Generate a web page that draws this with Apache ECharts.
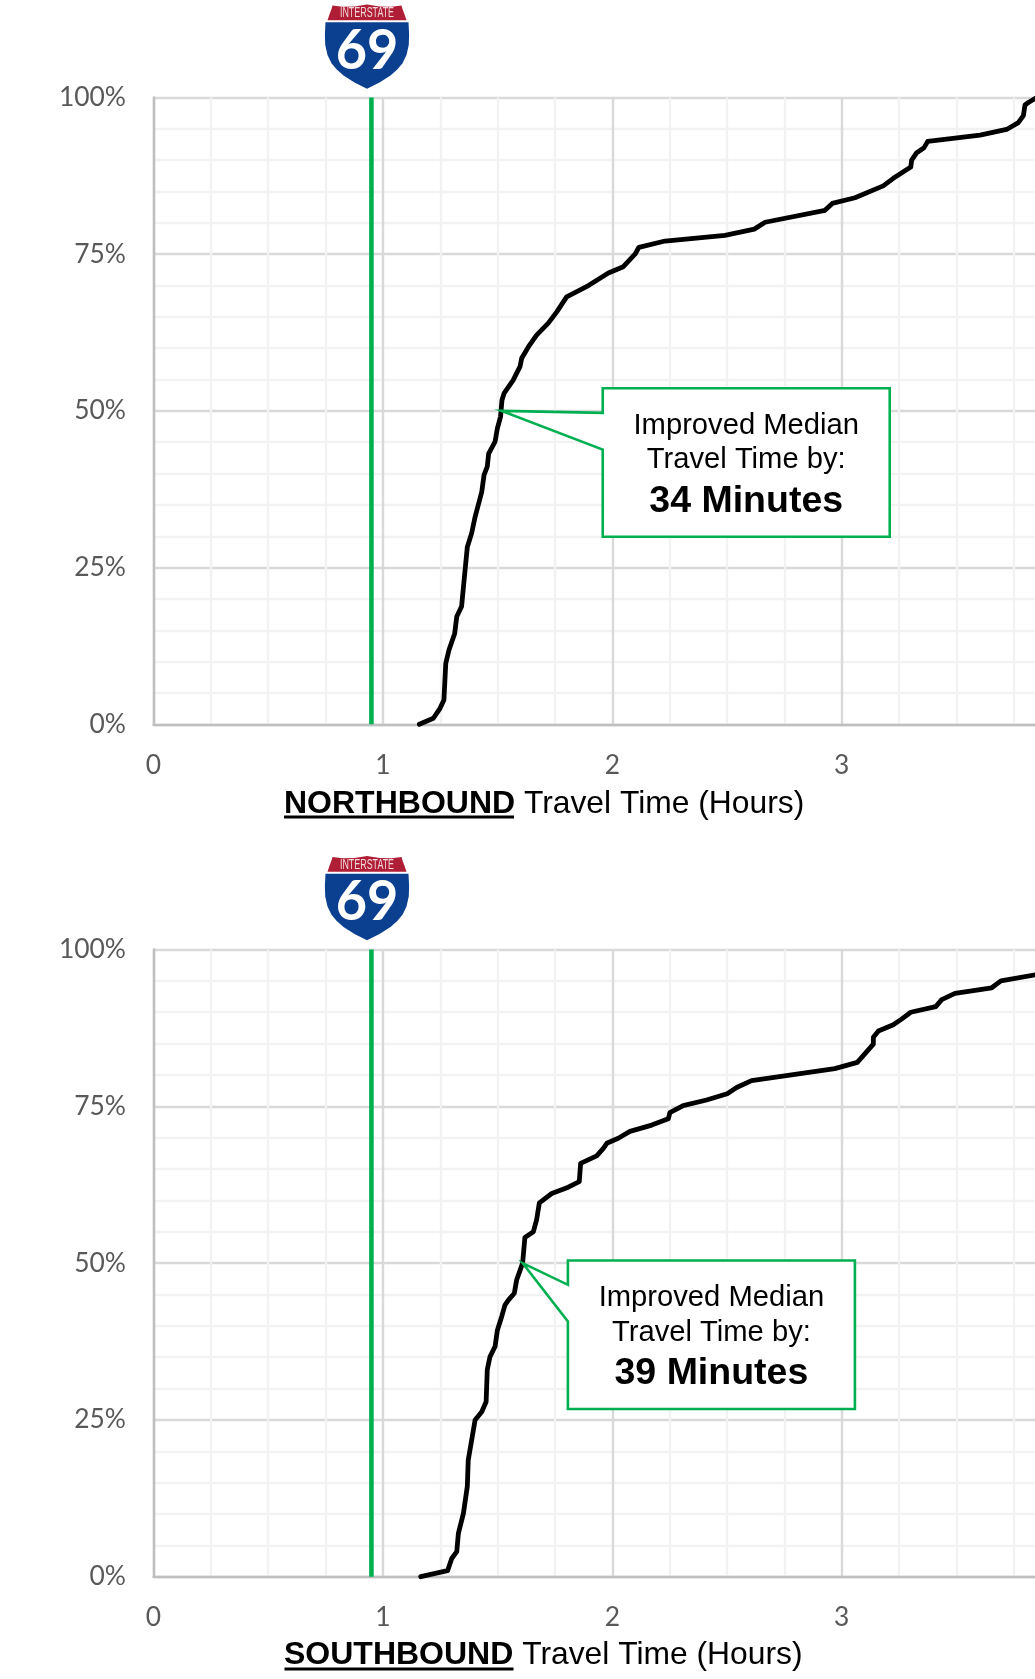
<!DOCTYPE html>
<html>
<head>
<meta charset="utf-8">
<style>html,body{margin:0;padding:0;background:#fff;overflow:hidden}#c{width:1035px;height:1679px}</style>
<script src="https://cdn.jsdelivr.net/npm/echarts@6/dist/echarts.min.js"></script>
</head>
<body>
<div id="c"></div>
<script>
const xTicks = [0, 1, 2, 3];
const yTicks = ['0%', '25%', '50%', '75%', '100%'];
const targetHours = 0.95;

const northHours = [1.159,1.22,1.249,1.266,1.274,1.288,1.313,1.322,1.343,1.354,1.368,1.387,1.402,1.431,1.441,1.455,1.461,1.489,1.499,1.513,1.519,1.528,1.568,1.598,1.605,1.634,1.67,1.721,1.758,1.801,1.896,1.983,2.048,2.099,2.116,2.23,2.491,2.619,2.666,2.927,2.959,3.058,3.181,3.225,3.301,3.305,3.327,3.359,3.375,3.603,3.719,3.77,3.792,3.799,3.814,3.85];
const northPct = [0,0.96,2.55,3.88,9.7,11.85,14.5,17.2,18.8,23,28.3,30.5,33.1,37.1,39.8,41.1,43.2,45.1,47.2,49.1,51.7,52.8,54.9,57.1,58.4,60.2,62.1,64,65.8,68.2,70,72,73,75,76.1,77.1,78,79,80.1,82,83.1,84,85.9,87.1,88.9,90,91.2,92,93,94,94.9,96,97.1,98.8,99.2,100];

const southHours = [1.165,1.282,1.30,1.322,1.329,1.351,1.368,1.372,1.402,1.431,1.45,1.455,1.467,1.489,1.499,1.518,1.532,1.547,1.573,1.583,1.609,1.619,1.656,1.67,1.682,1.736,1.808,1.856,1.862,1.932,1.961,1.976,2.026,2.077,2.172,2.244,2.251,2.309,2.411,2.501,2.542,2.607,2.97,3.068,3.116,3.138,3.138,3.16,3.225,3.261,3.301,3.41,3.436,3.494,3.654,3.694,3.85];
const southPct = [0,0.96,2.9,4,6.9,10.1,14.4,18.6,25,26.3,27.9,33,35.1,36.7,39.3,41.5,43.3,44.1,45.2,47.3,50,54.1,55,56.9,59.6,61.1,62.1,63,65.9,67.1,68.3,69.1,69.9,71,72,73,74,75.1,76,77,78,79.1,81,82,84,84.9,86,87,88,88.9,90,90.9,92,93,93.9,95,96];

const northMedian = [1.518, 50];
const southMedian = [1.609, 50];
const calloutLines = ['Improved Median', 'Travel Time by:'];
const northImproved = '34 Minutes';
const southImproved = '39 Minutes';
const northBound = 'NORTHBOUND';
const southBound = 'SOUTHBOUND';
const axisRest = ' Travel Time (Hours)';

const GREEN = '#00B050';
const SANS = '"Liberation Sans", Arial, sans-serif';
const LATO = 'Lato, sans-serif';
const zip = (a, b) => a.map((v, i) => [v, b[i]]);

function callout(bold, dx, dTop, j1, j2) {
  return {
    type: 'custom', coordinateSystem: 'cartesian2d', silent: true, z: 6, clip: false,
    renderItem(params, api) {
      const t = api.coord([api.value(0), api.value(1)]);
      const L = t[0] + dx, R = L + 287, T = t[1] + dTop, B = T + 148.5, cx = (L + R) / 2;
      const txt = (s, y, font) => ({
        type: 'text', z2: 2,
        style: { text: s, x: cx, y: T + y, align: 'center', verticalAlign: 'middle', font, fill: '#000' }
      });
      return {
        type: 'group',
        children: [
          { type: 'polygon',
            shape: { points: [t, [L, t[1] + j1], [L, T], [R, T], [R, B], [L, B], [L, t[1] + j2]] },
            style: { fill: '#fff', stroke: GREEN, lineWidth: 2.6 } },
          txt(calloutLines[0], 37.5, '29.2px ' + SANS),
          txt(calloutLines[1], 72, '29.2px ' + SANS),
          txt(bold, 113, 'bold 37.5px ' + SANS)
        ]
      };
    }
  };
}

function axisPair(gi) {
  return {
    x: {
      type: 'value', gridIndex: gi, min: 0, max: 4, interval: 1,
      axisLine: { show: true, onZero: false, lineStyle: { color: '#BFBFBF', width: 2.4 } },
      axisTick: { show: false },
      axisLabel: { color: '#595959', fontFamily: LATO, fontSize: 26.4, margin: 28, showMaxLabel: false,
        formatter: v => String(xTicks[v] !== undefined ? xTicks[v] : '') },
      splitLine: { show: true, lineStyle: { color: '#D9D9D9', width: 2.4 } },
      minorTick: { show: false, splitNumber: 4 },
      minorSplitLine: { show: true, lineStyle: { color: '#F2F2F2', width: 2.4 } }
    },
    y: {
      type: 'value', gridIndex: gi, min: 0, max: 100, interval: 25,
      axisLine: { show: true, onZero: false, lineStyle: { color: '#BFBFBF', width: 2.4 } },
      axisTick: { show: false },
      axisLabel: { color: '#595959', fontFamily: LATO, fontSize: 26.4, margin: 27.5, padding: [2, 0, 0, 0],
        formatter: v => yTicks[v / 25] },
      splitLine: { show: true, lineStyle: { color: '#D9D9D9', width: 2.4 } },
      minorTick: { show: false, splitNumber: 5 },
      minorSplitLine: { show: true, lineStyle: { color: '#F2F2F2', width: 2.4 } }
    }
  };
}

function curve(gi, x, y) {
  return {
    type: 'line', xAxisIndex: gi, yAxisIndex: gi, data: zip(x, y), showSymbol: false, symbol: 'none',
    smooth: false, clip: false, silent: true, z: 4,
    lineStyle: { color: '#000', width: 4.8, cap: 'round', join: 'round' }
  };
}
function target(gi) {
  return {
    type: 'line', xAxisIndex: gi, yAxisIndex: gi, data: [[targetHours, 0], [targetHours, 100]],
    showSymbol: false, symbol: 'none', clip: false, silent: true, z: 3,
    lineStyle: { color: GREEN, width: 4.6, cap: 'butt' }
  };
}
function axisTitle(bold, top) {
  return {
    text: '{b|' + bold + '}{r|' + axisRest + '}', left: 284, top: top, padding: 0,
    textStyle: {
      rich: {
        b: { fontFamily: SANS, fontWeight: 'bold', fontSize: 32, color: '#000' },
        r: { fontFamily: SANS, fontWeight: 'normal', fontSize: 31.8, color: '#000' }
      }
    }
  };
}
const shieldBlue = [[1,18],[84,18],[84.6,30],[84.3,40],[82,50],[78,58],[73,64],[66,70],[55,77],[42.5,83],[30,77],[19,70],[12,64],[7,58],[3,50],[0.7,40],[0.4,30]];
const shieldRed = [[3,16],[5,10],[7,5],[8,1.5],[18,2.8],[30,2.5],[42.5,0.5],[55,2.5],[67,2.8],[77,1.5],[78,5],[80,10],[82,16]];
function shield(x, y) {
  return {
    type: 'group', x: x, y: y, scaleY: 1.02, z: 10, silent: true,
    children: [
      { type: 'polygon', shape: { points: shieldBlue }, style: { fill: '#0B3F8F' } },
      { type: 'polygon', shape: { points: shieldRed }, style: { fill: '#B01E35' } },
      { type: 'text', x: 42.5, y: 9.5, scaleX: 0.66, style: { text: 'INTERSTATE', align: 'center', verticalAlign: 'middle', font: '13.5px ' + SANS, fill: '#F3D9DD' } },
      { type: 'text', x: 42.5, y: 46, style: { text: '69', align: 'center', verticalAlign: 'middle', font: 'bold 54px ' + LATO, fill: '#fff' } }
    ]
  };
}

const a0 = axisPair(0), a1 = axisPair(1);
const chart = echarts.init(document.getElementById('c'), null, { renderer: 'canvas', width: 1035, height: 1679 });
chart.setOption({
  animation: false,
  backgroundColor: '#fff',
  grid: [
    { left: 153.5, top: 97.5, width: 917.6, height: 626.8, outerBoundsMode: 'none' },
    { left: 153.5, top: 949.5, width: 917.6, height: 627.2, outerBoundsMode: 'none' }
  ],
  xAxis: [a0.x, a1.x],
  yAxis: [a0.y, a1.y],
  title: [axisTitle(northBound, 788), axisTitle(southBound, 1639.5)],
  series: [
    target(0), curve(0, northHours, northPct),
    Object.assign(callout(northImproved, 101, -22.6, 2, 38.7), { xAxisIndex: 0, yAxisIndex: 0, data: [northMedian] }),
    target(1), curve(1, southHours, southPct),
    Object.assign(callout(southImproved, 45.3, -2.6, 21.7, 58.4), { xAxisIndex: 1, yAxisIndex: 1, data: [southMedian] })
  ],
  graphic: [
    shield(324.5, 4), shield(324.5, 855.5),
    { type: 'rect', shape: { x: 284, y: 815.5, width: 230, height: 3 }, style: { fill: '#000' }, silent: true },
    { type: 'rect', shape: { x: 284.5, y: 1667.5, width: 229, height: 3 }, style: { fill: '#000' }, silent: true }
  ]
});
</script>
</body>
</html>
